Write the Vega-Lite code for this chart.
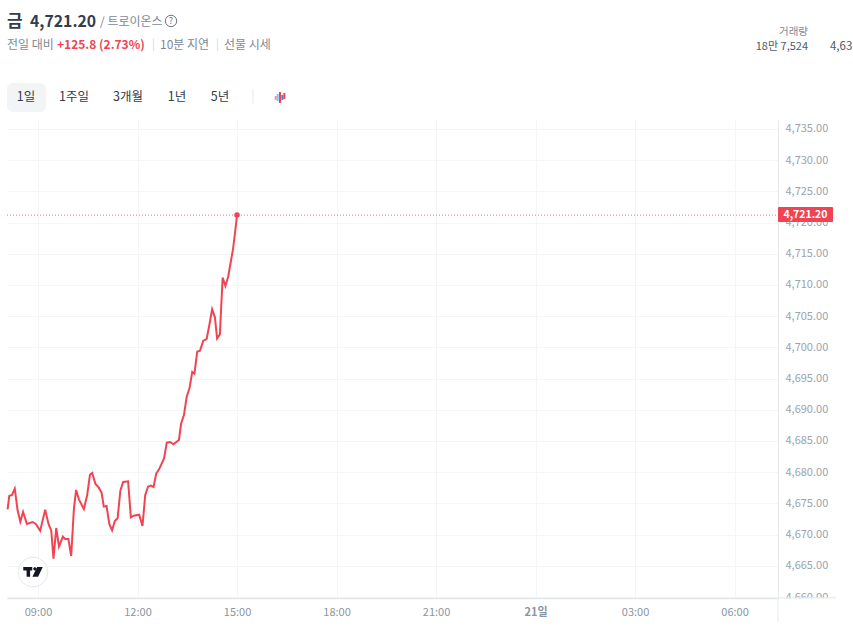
{
"$schema":"https://vega.github.io/schema/vega-lite/v6.json",
"width":771,"height":478,
"autosize":{"type":"none"},
"padding":{"left":7,"top":120,"right":75,"bottom":40},
"background":"#ffffff",
"config":{"view":{"stroke":null},"font":"Noto Sans CJK KR"},
"datasets":{
"price":[
{"t":"2026-01-20T08:05:00","v":4674.05},{"t":"2026-01-20T08:08:00","v":4676.19},{"t":"2026-01-20T08:13:00","v":4676.35},{"t":"2026-01-20T08:18:00","v":4677.36},{"t":"2026-01-20T08:23:00","v":4673.94},{"t":"2026-01-20T08:28:00","v":4672.07},{"t":"2026-01-20T08:33:00","v":4673.62},{"t":"2026-01-20T08:40:00","v":4671.70},{"t":"2026-01-20T08:50:00","v":4672.02},{"t":"2026-01-20T08:56:00","v":4671.70},{"t":"2026-01-20T09:04:00","v":4670.63},{"t":"2026-01-20T09:13:00","v":4674.00},{"t":"2026-01-20T09:19:00","v":4671.70},{"t":"2026-01-20T09:24:00","v":4670.63},{"t":"2026-01-20T09:28:00","v":4666.14},{"t":"2026-01-20T09:33:00","v":4671.06},{"t":"2026-01-20T09:38:00","v":4668.07},{"t":"2026-01-20T09:45:00","v":4669.67},{"t":"2026-01-20T09:49:00","v":4669.29},{"t":"2026-01-20T09:55:00","v":4669.29},{"t":"2026-01-20T10:00:00","v":4666.57},{"t":"2026-01-20T10:05:00","v":4674.21},{"t":"2026-01-20T10:09:00","v":4677.15},{"t":"2026-01-20T10:14:00","v":4675.65},{"t":"2026-01-20T10:23:00","v":4674.10},{"t":"2026-01-20T10:29:00","v":4676.35},{"t":"2026-01-20T10:34:00","v":4679.60},{"t":"2026-01-20T10:38:00","v":4679.87},{"t":"2026-01-20T10:44:00","v":4678.11},{"t":"2026-01-20T10:50:00","v":4677.52},{"t":"2026-01-20T10:55:00","v":4676.72},{"t":"2026-01-20T10:59:00","v":4674.48},{"t":"2026-01-20T11:04:00","v":4674.58},{"t":"2026-01-20T11:09:00","v":4671.70},{"t":"2026-01-20T11:14:00","v":4670.68},{"t":"2026-01-20T11:19:00","v":4672.18},{"t":"2026-01-20T11:24:00","v":4672.61},{"t":"2026-01-20T11:29:00","v":4677.04},{"t":"2026-01-20T11:34:00","v":4678.43},{"t":"2026-01-20T11:43:00","v":4678.54},{"t":"2026-01-20T11:48:00","v":4672.77},{"t":"2026-01-20T11:53:00","v":4673.03},{"t":"2026-01-20T12:03:00","v":4673.19},{"t":"2026-01-20T12:09:00","v":4671.38},{"t":"2026-01-20T12:14:00","v":4676.35},{"t":"2026-01-20T12:19:00","v":4677.68},{"t":"2026-01-20T12:24:00","v":4677.84},{"t":"2026-01-20T12:29:00","v":4677.63},{"t":"2026-01-20T12:34:00","v":4679.82},{"t":"2026-01-20T12:39:00","v":4680.46},{"t":"2026-01-20T12:48:00","v":4682.22},{"t":"2026-01-20T12:53:00","v":4684.73},{"t":"2026-01-20T12:59:00","v":4684.84},{"t":"2026-01-20T13:05:00","v":4684.47},{"t":"2026-01-20T13:15:00","v":4685.16},{"t":"2026-01-20T13:19:00","v":4687.83},{"t":"2026-01-20T13:24:00","v":4689.16},{"t":"2026-01-20T13:29:00","v":4692.10},{"t":"2026-01-20T13:34:00","v":4693.44},{"t":"2026-01-20T13:39:00","v":4696.06},{"t":"2026-01-20T13:43:00","v":4695.79},{"t":"2026-01-20T13:48:00","v":4699.31},{"t":"2026-01-20T13:53:00","v":4699.47},{"t":"2026-01-20T13:59:00","v":4701.08},{"t":"2026-01-20T14:05:00","v":4701.34},{"t":"2026-01-20T14:10:00","v":4703.59},{"t":"2026-01-20T14:15:00","v":4706.10},{"t":"2026-01-20T14:20:00","v":4704.82},{"t":"2026-01-20T14:24:00","v":4701.45},{"t":"2026-01-20T14:29:00","v":4702.09},{"t":"2026-01-20T14:34:00","v":4711.17},{"t":"2026-01-20T14:39:00","v":4709.84},{"t":"2026-01-20T14:44:00","v":4711.33},{"t":"2026-01-20T14:53:00","v":4715.87},{"t":"2026-01-20T14:57:00","v":4718.81},{"t":"2026-01-20T15:00:00","v":4721.20}
]},
"encoding":{
"x":{"field":"t","type":"temporal","title":null,"scale":{"domain":["2026-01-20T08:03:55","2026-01-21T07:18:40"]},
"axis":{"values":["2026-01-20T09:00:00","2026-01-20T12:00:00","2026-01-20T15:00:00","2026-01-20T18:00:00","2026-01-20T21:00:00","2026-01-21T00:00:00","2026-01-21T03:00:00","2026-01-21T06:00:00"],
"labelExpr":"hours(datum.value)==0?'21일':timeFormat(datum.value,'%H:%M')",
"labelFontWeight":{"condition":{"test":"hours(datum.value)==0","value":700},"value":400},
"labelFont":"Noto Sans CJK KR","labelFontSize":11,"labelColor":"#8b95a1","labelPadding":8,"ticks":false,"grid":true,"gridColor":"#f4f5f7","gridWidth":1,"domain":true,"domainColor":"#e5e8eb","domainWidth":1.5,"labelFlush":false,"labelOverlap":false}},
"y":{"field":"v","type":"quantitative","title":null,"scale":{"domain":[4659.84,4736.44],"nice":false,"zero":false},
"axis":{"orient":"right","values":[4660,4665,4670,4675,4680,4685,4690,4695,4700,4705,4710,4715,4720,4725,4730,4735],"format":",.2f","labelFont":"Noto Sans CJK KR","labelFontSize":11,"labelColor":"#9aa3ae","labelPadding":7,"labelOffset":0,"ticks":false,"grid":true,"gridColor":"#f4f5f7","gridWidth":1,"domain":true,"domainColor":"#e5e8eb","domainWidth":1,"labelOverlap":false,"labelFlush":false}}
},
"layer":[
{"data":{"values":[{"t":"2026-01-20T08:03:55","t2":"2026-01-20T09:14:28","v":4742.37,"v2":4737.72}]},
 "mark":{"type":"rect","fill":"#f2f4f6","cornerRadius":6},
 "encoding":{"x2":{"field":"t2"},"y2":{"field":"v2"}}},
{"data":{"values":[{"t":"2026-01-20T15:28:56","v":4741.41,"v2":4739.01}]},
 "mark":{"type":"rule","stroke":"#e5e8eb","strokeWidth":1},
 "encoding":{"y2":{"field":"v2"}}},
{"data":{"values":[
 {"t":"2026-01-20T16:10:00","v":4740.29,"v2":4739.65,"kind":"pink"},
 {"t":"2026-01-20T16:13:36","v":4740.61,"v2":4739.49,"kind":"sky"},
 {"t":"2026-01-20T16:17:46","v":4740.93,"v2":4739.17,"kind":"red"},
 {"t":"2026-01-20T16:22:00","v":4740.45,"v2":4739.65,"kind":"blue"},
 {"t":"2026-01-20T16:25:36","v":4740.77,"v2":4739.81,"kind":"red"}]},
 "mark":{"type":"rule","strokeWidth":2},
 "encoding":{"y2":{"field":"v2"},"color":{"field":"kind","type":"nominal","legend":null,"scale":{"domain":["pink","sky","red","blue"],"range":["#f58f9a","#8cc0f5","#f04452","#3182f6"]}}}},
{"data":{"values":[{"t":"2026-01-21T07:18:40","t2":"2026-01-21T09:03:36","v":4659.84}]},
 "mark":{"type":"rule","stroke":"#e5e8eb","strokeWidth":1.5},
 "encoding":{"x2":{"field":"t2"}}},
{"data":{"values":[{"t":"2026-01-21T07:18:40","v":4659.84,"v2":4656.0}]},
 "mark":{"type":"rule","stroke":"#e5e8eb","strokeWidth":1},
 "encoding":{"y2":{"field":"v2"}}},
{"data":{"values":[{"t":"2026-01-21T07:20:30","t2":"2026-01-21T09:34:24","v":4659.76,"v2":4657.9}]},
 "mark":{"type":"rect","fill":"#ffffff"},
 "encoding":{"x2":{"field":"t2"},"y2":{"field":"v2"}}},
{"data":{"values":[{"t":"2026-01-20T08:03:55","t2":"2026-01-21T07:18:40","v":4721.2}]},
 "mark":{"type":"rule","stroke":"#f04452","strokeWidth":1,"strokeDash":[1,2],"opacity":0.8},
 "encoding":{"x2":{"field":"t2"}}},
{"data":{"name":"price"},"mark":{"type":"line","stroke":"#f04452","strokeWidth":2,"interpolate":"linear"}},
{"data":{"values":[{"t":"2026-01-20T15:00:00","v":4721.2}]},
 "mark":{"type":"point","filled":true,"fill":"#f04452","size":30,"opacity":1}},
{"data":{"values":[{"t":"2026-01-20T08:51:00","v":4664.01}]},
 "mark":{"type":"point","shape":"circle","filled":true,"fill":"#ffffff","stroke":"#e5e8eb","strokeWidth":1,"size":880,"opacity":1}},
{"data":{"values":[{"t":"2026-01-20T08:51:00","v":4664.01}]},
 "mark":{"type":"point","shape":"M-1,-0.5L-0.08,-0.5L-0.08,-0.14L-0.3,-0.14L-0.3,0.5L-0.66,0.5L-0.66,-0.14L-1,-0.14ZM0.42,-0.5L1,-0.5L0.52,0.5L-0.06,0.5ZM0.02,-0.32A0.16,0.16 0 1 0 0.34,-0.32A0.16,0.16 0 1 0 0.02,-0.32Z","filled":true,"fill":"#131722","size":380,"opacity":1,"strokeWidth":0}},
{"data":{"values":[{"t":"2026-01-21T07:18:40","t2":"2026-01-21T08:58:10","v":4722.5,"v2":4720.1}]},
 "mark":{"type":"rect","fill":"#f04452","cornerRadius":1},
 "encoding":{"x2":{"field":"t2"},"y2":{"field":"v2"}}},
{"data":{"values":[{"t":"2026-01-21T08:08:26","v":4721.28,"label":"4,721.20"}]},
 "mark":{"type":"text","fontSize":10.5,"fontWeight":700,"fill":"#ffffff","align":"center","baseline":"middle"},
 "encoding":{"text":{"field":"label"}}},
{"data":{"values":[{"t":"2026-01-20T08:03:55","v":4752.2,"label":"금"}]},
 "mark":{"type":"text","fontSize":17,"fontWeight":700,"fill":"#333d4b","align":"left","baseline":"middle"},
 "encoding":{"text":{"field":"label"}}},
{"data":{"values":[{"t":"2026-01-20T08:45:32","v":4752.2,"label":"4,721.20"}]},
 "mark":{"type":"text","fontSize":15.8,"fontWeight":700,"fill":"#333d4b","align":"left","baseline":"middle"},
 "encoding":{"text":{"field":"label"}}},
{"data":{"values":[{"t":"2026-01-20T10:52:10","v":4752.2,"label":"/ 트로이온스"}]},
 "mark":{"type":"text","fontSize":12,"fill":"#7e8996","align":"left","baseline":"middle"},
 "encoding":{"text":{"field":"label"}}},
{"data":{"values":[{"t":"2026-01-20T13:00:36","v":4752.31}]},
 "mark":{"type":"point","shape":"circle","stroke":"#6b7684","strokeWidth":1,"size":130,"opacity":1}},
{"data":{"values":[{"t":"2026-01-20T13:00:36","v":4752.25,"label":"?"}]},
 "mark":{"type":"text","fontSize":9,"fill":"#6b7684","align":"center","baseline":"middle"},
 "encoding":{"text":{"field":"label"}}},
{"data":{"values":[{"t":"2026-01-20T08:03:55","v":4748.48,"label":"전일 대비"},{"t":"2026-01-20T12:40:42","v":4748.48,"label":"10분 지연"},{"t":"2026-01-20T14:36:28","v":4748.48,"label":"선물 시세"}]},
 "mark":{"type":"text","fontSize":12,"fill":"#7e8996","align":"left","baseline":"middle"},
 "encoding":{"text":{"field":"label"}}},
{"data":{"values":[{"t":"2026-01-20T12:26:14","v":4748.48,"label":"|"},{"t":"2026-01-20T14:22:00","v":4748.48,"label":"|"}]},
 "mark":{"type":"text","fontSize":11,"fill":"#d1d6db","align":"left","baseline":"middle"},
 "encoding":{"text":{"field":"label"}}},
{"data":{"values":[{"t":"2026-01-20T09:34:22","v":4748.48,"label":"+125.8 (2.73%)"}]},
 "mark":{"type":"text","fontSize":12,"fontWeight":700,"fill":"#f04452","align":"left","baseline":"middle"},
 "encoding":{"text":{"field":"label"}}},
{"data":{"values":[{"t":"2026-01-20T08:38:18","v":4740.05,"label":"1일"},{"t":"2026-01-20T10:05:07","v":4740.05,"label":"1주일"},{"t":"2026-01-20T11:42:49","v":4740.05,"label":"3개월"},{"t":"2026-01-20T13:11:28","v":4740.05,"label":"1년"},{"t":"2026-01-20T14:29:14","v":4740.05,"label":"5년"}]},
 "mark":{"type":"text","fontSize":12.5,"fill":"#333d4b","align":"center","baseline":"middle"},
 "encoding":{"text":{"field":"label"}}},
{"data":{"values":[{"t":"2026-01-21T08:13:00","v":4750.55,"label":"거래량"}]},
 "mark":{"type":"text","fontSize":10.5,"fill":"#7e8996","align":"right","baseline":"middle"},
 "encoding":{"text":{"field":"label"}}},
{"data":{"values":[{"t":"2026-01-21T08:13:00","v":4748.14,"label":"18만 7,524"}]},
 "mark":{"type":"text","fontSize":11,"fill":"#4e5968","align":"right","baseline":"middle"},
 "encoding":{"text":{"field":"label"}}},
{"data":{"values":[{"t":"2026-01-21T08:52:42","v":4748.14,"label":"4,63"}]},
 "mark":{"type":"text","fontSize":11.5,"fill":"#4e5968","align":"left","baseline":"middle"},
 "encoding":{"text":{"field":"label"}}}
]
}
